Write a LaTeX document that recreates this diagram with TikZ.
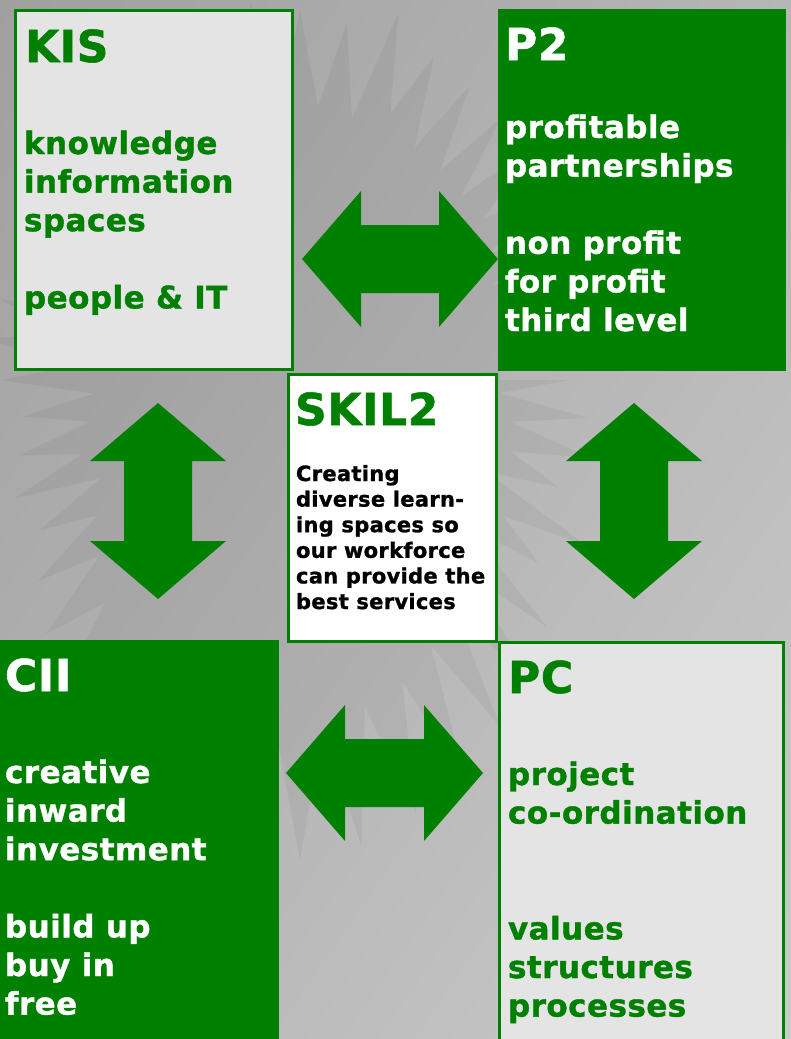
\documentclass[tikz,border=0pt]{standalone}
\usepackage{fontspec}
\setmainfont{DejaVu Sans}[LetterSpace=1.5, BoldFeatures={FakeBold=1.2}]
\usetikzlibrary{calc,shadings}

\definecolor{leaf}{RGB}{0,128,0}
\definecolor{paper}{RGB}{228,228,228}
\definecolor{bgUL}{RGB}{160,160,160}
\definecolor{bgUR}{RGB}{182,182,182}
\definecolor{bgLL}{RGB}{180,180,180}
\definecolor{bgLR}{RGB}{202,202,202}

\newcommand\headfont{\fontsize{44}{50}\selectfont\bfseries}
\newcommand\bodyfont{\fontsize{31}{38.6}\selectfont\bfseries}
\newcommand\notefont{\fontsize{21}{25.6}\selectfont\bfseries}

% two-headed block arrows between two named points
\newcommand\harrow[2]{\fill[arrowfill] (#1) -- ++(59,-68) -- ++(0,34) -- ($(#2)+(-59,-34)$) -- ++(0,-34) -- (#2) -- ++(-59,68) -- ++(0,-34) -- ($(#1)+(59,34)$) -- ++(0,34) -- cycle;}
\newcommand\varrow[2]{\fill[arrowfill] (#1) -- ++(68,58) -- ++(-34,0) -- ($(#2)+(34,-58)$) -- ++(34,0) -- (#2) -- ++(-68,-58) -- ++(34,0) -- ($(#1)+(-34,58)$) -- ++(-34,0) -- cycle;}

\tikzset{
  panel/.style={rectangle, inner sep=0, outer sep=0, anchor=north west},
  lightpanel/.style={panel, fill=paper, draw=leaf, line width=3pt},
  whitepanel/.style={panel, fill=white, draw=leaf, line width=3pt},
  greenpanel/.style={panel, fill=leaf},
  boxtext/.style={inner sep=0, outer sep=0, anchor=base west},
  arrowfill/.style={fill=leaf},
  starshade/.style={fill=black, fill opacity=0.045},
}

\begin{document}
\begin{tikzpicture}[x=1pt,y=-1pt]
\useasboundingbox (0,0) rectangle (791,1039);
\clip (0,0) rectangle (791,1039);

% background: soft grey gradient with a starburst
\shade[upper left=bgUL, upper right=bgUR, lower left=bgLL, lower right=bgLR]
  (0,0) rectangle (791,1039);
\fill[starshade, shift={(300,380)}] (0:200)
  \foreach \a/\r in {0/270,7.5/290,15/300,22.5/280,30/330,37.5/300,45/350,52.5/380,60/400,67.5/430,75/450,82.5/470,
                     90/480,97.5/460,105/450,112.5/470,120/420,127.5/400,135/360,142.5/330,150/300,157.5/310,165/290,172.5/280,
                     180/300,187.5/320,195/310,202.5/300,210/330,217.5/350,225/340,232.5/360,240/370,247.5/350,255/360,262.5/380,
                     270/370,277.5/360,285/380,292.5/350,300/340,307.5/330,315/330,322.5/310,330/290,337.5/300,345/280,352.5/270}
  { -- (\a:\r) -- (\a+3.75:{0.74*\r}) } -- cycle;

% panels
\node[lightpanel, minimum width=277pt, minimum height=359pt] (kis) at (15.5,10.5) {};
\node[greenpanel, minimum width=288pt, minimum height=362pt] (p2) at (498,9) {};
\node[whitepanel, minimum width=208pt, minimum height=267pt] (skil) at (288.5,374.5) {};
\node[greenpanel, minimum width=279pt, minimum height=410pt] (cii) at (0,640) {};
\node[lightpanel, minimum width=284pt, minimum height=410pt] (pc) at (499.5,642.5) {};

% panel texts
\node[boxtext, text=leaf, font=\headfont] (kis-head) at (25,62) {KIS};
\node[boxtext, text=leaf, font=\bodyfont] (kis-body) at (24,154)
  {\begin{tabular}[t]{@{}l@{}}knowledge\\information\\spaces\\ \\people \& IT\end{tabular}};

\node[boxtext, text=white, font=\headfont] (p2-head) at (505,60) {P2};
\node[boxtext, text=white, font=\bodyfont] (p2-body) at (505,138)
  {\begin{tabular}[t]{@{}l@{}}profitable\\partnerships\\ \\non profit\\for profit\\third level\end{tabular}};

\node[boxtext, text=leaf, font=\headfont] (skil-head) at (295,425) {SKIL2};
\node[boxtext, text=black, font=\notefont] (skil-body) at (296,481)
  {\begin{tabular}[t]{@{}l@{}}Creating\\diverse learn-\\ing spaces so\\our workforce\\can provide the\\best services\end{tabular}};

\node[boxtext, text=white, font=\headfont] (cii-head) at (5,691) {CII};
\node[boxtext, text=white, font=\bodyfont] (cii-body) at (5,783)
  {\begin{tabular}[t]{@{}l@{}}creative\\inward\\investment\\ \\build up\\buy in\\free\end{tabular}};

\node[boxtext, text=leaf, font=\headfont] (pc-head) at (508,693) {PC};
\node[boxtext, text=leaf, font=\bodyfont] (pc-body) at (508,785)
  {\begin{tabular}[t]{@{}l@{}}project\\co-ordination\\ \\ \\values\\structures\\processes\end{tabular}};

% arrow end points
\coordinate (kis-p2-a) at (302,259);
\coordinate (kis-p2-b) at (498,259);
\coordinate (cii-pc-a) at (286,773);
\coordinate (cii-pc-b) at (483,773);
\coordinate (kis-cii-a) at (158,403);
\coordinate (kis-cii-b) at (158,599);
\coordinate (p2-pc-a) at (634,403);
\coordinate (p2-pc-b) at (634,599);

% connectors
\harrow{kis-p2-a}{kis-p2-b}
\harrow{cii-pc-a}{cii-pc-b}
\varrow{kis-cii-a}{kis-cii-b}
\varrow{p2-pc-a}{p2-pc-b}
\end{tikzpicture}
\end{document}
